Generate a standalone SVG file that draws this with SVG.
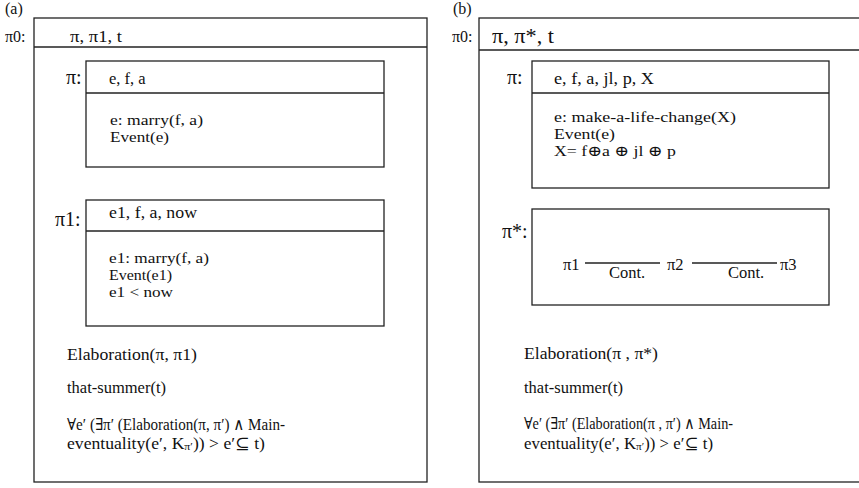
<svg xmlns="http://www.w3.org/2000/svg" width="859" height="488" viewBox="0 0 859 488" font-family="'Liberation Serif', 'DejaVu Serif', serif">
<style>
text{font-family:"Liberation Serif","DejaVu Serif",serif;font-size:16.5px;fill:#111}
.lbl{font-size:16px}
.big{font-size:20px}
.bd{font-size:15px}
.sm{font-size:16.5px}
.box{fill:none;stroke:#222;stroke-width:1.3}
.ln{stroke:#222;stroke-width:1.3}
</style>
<rect width="859" height="488" fill="#fff"/>

<g id="panel-a">
  <text class="lbl" x="5" y="14">(a)</text>
  <g id="a-pi0">
    <rect class="box" x="34" y="18" width="393" height="464"/>
    <line class="ln" x1="34" y1="47" x2="427" y2="47"/>
    <text class="lbl" x="5" y="42">π0:</text>
    <text x="70" y="42" textLength="52" lengthAdjust="spacingAndGlyphs">π, π1, t</text>
  </g>
  <g id="a-pi">
    <rect class="box" x="86" y="61" width="298" height="106"/>
    <line class="ln" x1="86" y1="93" x2="384" y2="93"/>
    <text class="big" x="66" y="84">π:</text>
    <text x="109" y="84">e, f, a</text>
    <text class="bd" x="110" y="125" textLength="93" lengthAdjust="spacingAndGlyphs">e: marry(f, a)</text>
    <text class="bd" x="110" y="142" textLength="59" lengthAdjust="spacingAndGlyphs">Event(e)</text>
  </g>
  <g id="a-pi1">
    <rect class="box" x="86" y="200" width="298" height="126"/>
    <line class="ln" x1="86" y1="231" x2="384" y2="231"/>
    <text class="big" x="55" y="226">π1:</text>
    <text x="109" y="218" textLength="88" lengthAdjust="spacingAndGlyphs">e1, f, a, now</text>
    <text class="bd" x="109" y="263" textLength="100" lengthAdjust="spacingAndGlyphs">e1: marry(f, a)</text>
    <text class="bd" x="109" y="280" textLength="63" lengthAdjust="spacingAndGlyphs">Event(e1)</text>
    <text class="bd" x="109" y="297" textLength="64" lengthAdjust="spacingAndGlyphs">e1 &lt; now</text>
  </g>
  <g id="a-conditions">
    <text x="67" y="360" textLength="130" lengthAdjust="spacingAndGlyphs">Elaboration(π, π1)</text>
    <text x="67" y="393">that-summer(t)</text>
    <text x="67" y="430" textLength="218" lengthAdjust="spacingAndGlyphs">∀e′ (∃π′ (Elaboration(π, π′) ∧ Main-</text>
    <text x="67" y="449" textLength="198" lengthAdjust="spacingAndGlyphs">eventuality(e′, K<tspan font-size="11" dy="1">π′</tspan><tspan dy="-1">)) &gt; e′⊆ t)</tspan></text>
  </g>
</g>

<g id="panel-b">
  <text class="lbl" x="453" y="14">(b)</text>
  <g id="b-pi0">
    <rect class="box" x="479" y="18" width="400" height="464"/>
    <line class="ln" x1="479" y1="50" x2="859" y2="50"/>
    <text class="lbl" x="452" y="42">π0:</text>
    <text class="big" x="492" y="43" textLength="62" lengthAdjust="spacingAndGlyphs">π, π*, t</text>
  </g>
  <g id="b-pi">
    <rect class="box" x="532" y="61" width="297" height="127"/>
    <line class="ln" x1="532" y1="93" x2="829" y2="93"/>
    <text class="big" x="507" y="84">π:</text>
    <text x="554" y="84" textLength="100" lengthAdjust="spacingAndGlyphs">e, f, a, jl, p, X</text>
    <text class="bd" x="554" y="122" textLength="182" lengthAdjust="spacingAndGlyphs">e: make-a-life-change(X)</text>
    <text class="bd" x="554" y="139" textLength="61" lengthAdjust="spacingAndGlyphs">Event(e)</text>
    <text class="bd" x="554" y="156" textLength="122" lengthAdjust="spacingAndGlyphs">X= f⊕a ⊕ jl ⊕ p</text>
  </g>
  <g id="b-pistar">
    <rect class="box" x="532" y="209" width="297" height="96"/>
    <text class="big" x="502" y="238">π*:</text>
    <g id="b-pi1"><text x="563" y="270">π1</text></g>
    <g id="b-pi2"><text x="667" y="270">π2</text></g>
    <g id="b-pi3"><text x="780" y="270">π3</text></g>
  </g>
  <g id="connectors">
    <line class="ln" x1="585" y1="263" x2="660" y2="263"/>
    <text class="sm" x="609" y="278">Cont.</text>
    <line class="ln" x1="692" y1="263" x2="777" y2="263"/>
    <text class="sm" x="728" y="278">Cont.</text>
  </g>
  <g id="b-conditions">
    <text x="524" y="359" textLength="134" lengthAdjust="spacingAndGlyphs">Elaboration(π , π*)</text>
    <text x="524" y="393">that-summer(t)</text>
    <text x="524" y="429" textLength="209" lengthAdjust="spacingAndGlyphs">∀e′ (∃π′ (Elaboration(π , π′) ∧ Main-</text>
    <text x="524" y="449" textLength="189" lengthAdjust="spacingAndGlyphs">eventuality(e′, K<tspan font-size="11" dy="1">π′</tspan><tspan dy="-1">)) &gt; e′⊆ t)</tspan></text>
  </g>
</g>
</svg>
